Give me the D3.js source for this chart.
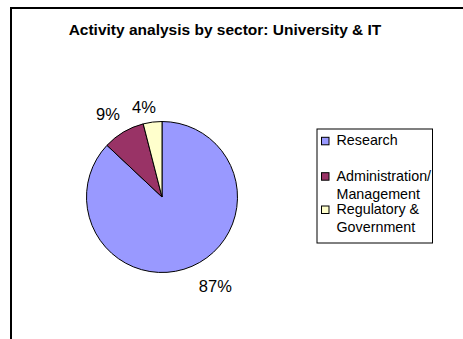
<!DOCTYPE html>
<html>
<head>
<meta charset="utf-8">
<script src="https://cdn.jsdelivr.net/npm/d3@7"></script>
<style>
  html, body { margin: 0; padding: 0; background: #fff; }
  svg { display: block; font-family: "Liberation Sans", Arial, sans-serif; }
</style>
</head>
<body>
<svg id="chart" width="463" height="339"></svg>
<script>
// Sector shares (percent)
const sectors = ["Research", "Administration/\nManagement", "Regulatory &\nGovernment"];
const shares = [87, 9, 4];
const colors = ["#9999FF", "#993366", "#FFFFCC"];
const chartTitle = "Activity analysis by sector: University & IT";

const svg = d3.select("#chart");

// Chart area frame (runs off the right and bottom edges)
svg.append("rect")
  .attr("x", 11).attr("y", 8)
  .attr("width", 470).attr("height", 350)
  .attr("fill", "#fff")
  .attr("stroke", "#000")
  .attr("stroke-width", 2);

svg.append("text")
  .attr("x", 225).attr("y", 34.5)
  .attr("text-anchor", "middle")
  .attr("font-size", 15.5)
  .attr("font-weight", "bold")
  .text(chartTitle);

// Pie, clockwise from 12 o'clock in data order
const cx = 162, cy = 197, r = 75.5;
const pie = d3.pie().sort(null).value(d => d)(shares);
const arc = d3.arc().innerRadius(0).outerRadius(r);
const labelArc = d3.arc().innerRadius(r + 21).outerRadius(r + 21);
// best-fit shifts of the percentage labels away from the slice midlines
const labelShift = [[15, 0.5], [-5, 0], [-6, 5.5]];

const g = svg.append("g").attr("transform", `translate(${cx},${cy})`);
g.selectAll("path.slice")
  .data(pie)
  .join("path")
  .attr("class", "slice")
  .attr("d", arc)
  .attr("fill", (d, i) => colors[i])
  .attr("stroke", "#000")
  .attr("stroke-width", 1);

g.selectAll("text.pct")
  .data(pie)
  .join("text")
  .attr("class", "pct")
  .attr("transform", (d, i) => {
    const [x, y] = labelArc.centroid(d);
    return `translate(${x + labelShift[i][0]},${y + labelShift[i][1]})`;
  })
  .attr("text-anchor", "middle")
  .attr("dy", "0.36em")
  .attr("font-size", 16.5)
  .attr("fill", "#000")
  .text(d => d.value + "%");

// Legend
const lx = 317, ly = 129, lw = 115.5, lh = 114;
svg.append("rect")
  .attr("x", lx).attr("y", ly)
  .attr("width", lw).attr("height", lh)
  .attr("fill", "#fff")
  .attr("stroke", "#000")
  .attr("stroke-width", 1);

const rowBaseline = [145.3, 180.7, 214];
const items = svg.selectAll("g.item")
  .data(sectors)
  .join("g")
  .attr("class", "item")
  .attr("transform", (d, i) => `translate(${lx},${rowBaseline[i]})`);

items.append("rect")
  .attr("x", 4.5).attr("y", -8)
  .attr("width", 7.5).attr("height", 7.5)
  .attr("fill", (d, i) => colors[i])
  .attr("stroke", "#000")
  .attr("stroke-width", 1);

items.append("text")
  .attr("font-size", 14.3)
  .attr("fill", "#000")
  .selectAll("tspan")
  .data(d => d.split("\n"))
  .join("tspan")
  .attr("x", 19.5)
  .attr("y", (d, j) => j * 18)
  .text(d => d);
</script>
</body>
</html>
